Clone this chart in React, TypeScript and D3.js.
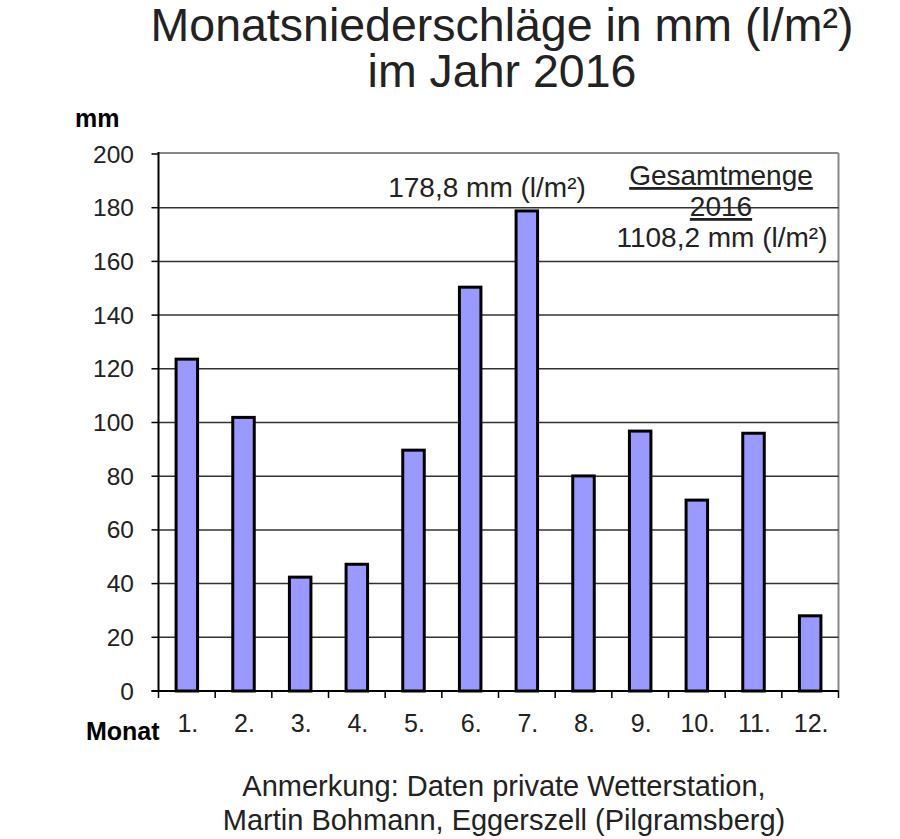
import React from "react";
import * as d3 from "d3";

// Monatsniederschläge 2016 (mm)
const months = ["1.", "2.", "3.", "4.", "5.", "6.", "7.", "8.", "9.", "10.", "11.", "12."];
const rainfall = [123.6, 101.9, 42.4, 47.2, 89.7, 150.4, 178.8, 80.1, 96.8, 71.1, 96.0, 28.0];
const yTicks = [0, 20, 40, 60, 80, 100, 120, 140, 160, 180, 200];

const titleLines = ["Monatsniederschläge in mm (l/m²)", "im Jahr 2016"];
const noteLines = [
  "Anmerkung: Daten private Wetterstation,",
  "Martin Bohmann, Eggerszell (Pilgramsberg)",
];
const maxLabel = "178,8 mm (l/m²)";
const totalLines = ["Gesamtmenge", "2016", "1108,2 mm (l/m²)"];

const W = 900;
const H = 839;
const left = 158.5;
const right = 838.5;
const top = 154;
const bottom = 691;
const font = "'Liberation Sans', Arial, sans-serif";
const ink = "#222";

const App: React.FC = () => {
  const x = d3.scaleBand<string>().domain(months).range([left, right]).padding(0);
  const y = d3.scaleLinear().domain([0, 200]).range([bottom, top]);
  const barW = 21.5;

  const boundaries = months.map((m) => x(m)!).concat([right]);

  return (
    <svg
      width={W}
      height={H}
      style={{ position: "absolute", left: 0, top: 0, background: "#fff" }}
      fontFamily={font}
    >
      {/* title */}
      {titleLines.map((t, i) => (
        <text key={t} x={502} y={41 + i * 46} textAnchor="middle" fontSize={46.5} fill={ink}>
          {t}
        </text>
      ))}

      {/* frame top/right */}
      <line x1={left} x2={right} y1={top - 1} y2={top - 1} stroke="#888" strokeWidth={2} />
      <line x1={right} x2={right} y1={top - 1} y2={bottom} stroke="#888" strokeWidth={2} />

      {/* gridlines */}
      {yTicks
        .filter((t) => t > 0 && t < 200)
        .map((t) => (
          <line key={t} x1={left} x2={right} y1={y(t)} y2={y(t)} stroke="#333" strokeWidth={1.5} />
        ))}

      {/* bars */}
      {rainfall.map((v, i) => {
        const cx = x(months[i])! + x.bandwidth() / 2;
        return (
          <rect
            key={i}
            x={cx - barW / 2}
            y={y(v)}
            width={barW}
            height={bottom - y(v)}
            fill="#9999ff"
            stroke="#000"
            strokeWidth={3}
          />
        );
      })}

      {/* y axis */}
      <line x1={left} x2={left} y1={top - 2} y2={bottom + 1} stroke="#000" strokeWidth={2} />
      {yTicks.map((t) => (
        <g key={t}>
          <line x1={left - 7} x2={left} y1={y(t)} y2={y(t)} stroke="#000" strokeWidth={1.5} />
          <text x={134} y={y(t)} dy="0.35em" textAnchor="end" fontSize={24.5} fill={ink}>
            {t}
          </text>
        </g>
      ))}
      <text x={75} y={127} fontSize={25} fontWeight="bold" fill="#000">
        mm
      </text>

      {/* x axis */}
      <line x1={left - 7} x2={right} y1={bottom} y2={bottom} stroke="#000" strokeWidth={2} />
      {boundaries.map((b, i) => (
        <line key={i} x1={b} x2={b} y1={bottom} y2={bottom + 7} stroke="#000" strokeWidth={1.5} />
      ))}
      {months.map((m) => (
        <text
          key={m}
          x={x(m)! + x.bandwidth() / 2 + 1}
          y={732}
          textAnchor="middle"
          fontSize={25}
          fill={ink}
        >
          {m}
        </text>
      ))}
      <text x={86} y={740} fontSize={25} fontWeight="bold" fill="#000">
        Monat
      </text>

      {/* annotations */}
      <text x={487} y={197} textAnchor="middle" fontSize={28} fill={ink}>
        {maxLabel}
      </text>
      <text x={721} y={185} textAnchor="middle" fontSize={28} fill={ink} textDecoration="underline">
        {totalLines[0]}
      </text>
      <text x={721} y={216} textAnchor="middle" fontSize={28} fill={ink} textDecoration="underline">
        {totalLines[1]}
      </text>
      <text x={722} y={247} textAnchor="middle" fontSize={28} fill={ink}>
        {totalLines[2]}
      </text>

      {/* note */}
      {noteLines.map((t, i) => (
        <text key={t} x={504} y={796 + i * 34} textAnchor="middle" fontSize={29} fill={ink}>
          {t}
        </text>
      ))}
    </svg>
  );
};

export default App;
